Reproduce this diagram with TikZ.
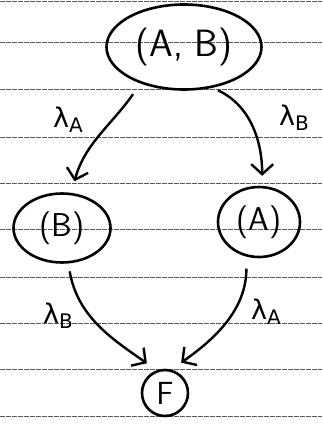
\documentclass[tikz,border=0pt]{standalone}
\usepackage{fontspec}
\newfontfamily\greekfont{DejaVu Sans}
\usetikzlibrary{shapes.geometric,arrows.meta}

\newcommand\ratelabel[1]{λ\raisebox{-5pt}{\fontsize{20}{22}\selectfont #1}}

\tikzset{
  state/.style={draw,ellipse,line width=2.6pt,inner sep=0pt,font=\sffamily},
  link/.style={line width=2.4pt,-{Straight Barb[length=10pt,width=22pt]}},
  rate/.style={font=\greekfont\fontsize{27}{30}\selectfont},
  ruled/.style={black!65,line width=1pt,dash pattern=on 5pt off 1pt}
}

\begin{document}
\begin{tikzpicture}[x=1pt,y=-1pt]
  \useasboundingbox (0,0) rectangle (322,425);

  \foreach \y in {2,43,90,137,183,229,277,323,369,416}{
    \draw[ruled] (0,\y) -- (322,\y);
  }

  \node[state,minimum width=155pt,minimum height=85pt,font=\sffamily\fontsize{38}{42}\selectfont] (ab) at (184,47) {(A, B)};
  \node[state,minimum width=97pt,minimum height=69pt,font=\sffamily\fontsize{33}{36}\selectfont] (b) at (62,228) {(B)};
  \node[state,minimum width=82pt,minimum height=70pt,font=\sffamily\fontsize{33}{36}\selectfont] (a) at (259,222) {(A)};
  \node[state,circle,minimum size=46pt,font=\sffamily\fontsize{32}{36}\selectfont] (f) at (165,393) {F};

  \draw[link,shorten <=13pt,shorten >=12pt] (ab.220) to[out=235,in=75] (b.75);
  \draw[link,shorten <=6pt,shorten >=10pt] (ab.305) to[out=-25,in=90] (a.85);
  \draw[link,shorten <=8pt,shorten >=12pt] (b.-80) to[out=-80,in=145] (f.110);
  \draw[link,shorten <=12pt,shorten >=12pt] (a.-110) to[out=-90,in=35] (f.75);

  \node[rate] (lab1) at (68,120) {\ratelabel{A}};
  \node[rate] (lab2) at (294,118) {\ratelabel{B}};
  \node[rate] (lab3) at (58,316) {\ratelabel{B}};
  \node[rate] (lab4) at (266,312) {\ratelabel{A}};
\end{tikzpicture}
\end{document}
